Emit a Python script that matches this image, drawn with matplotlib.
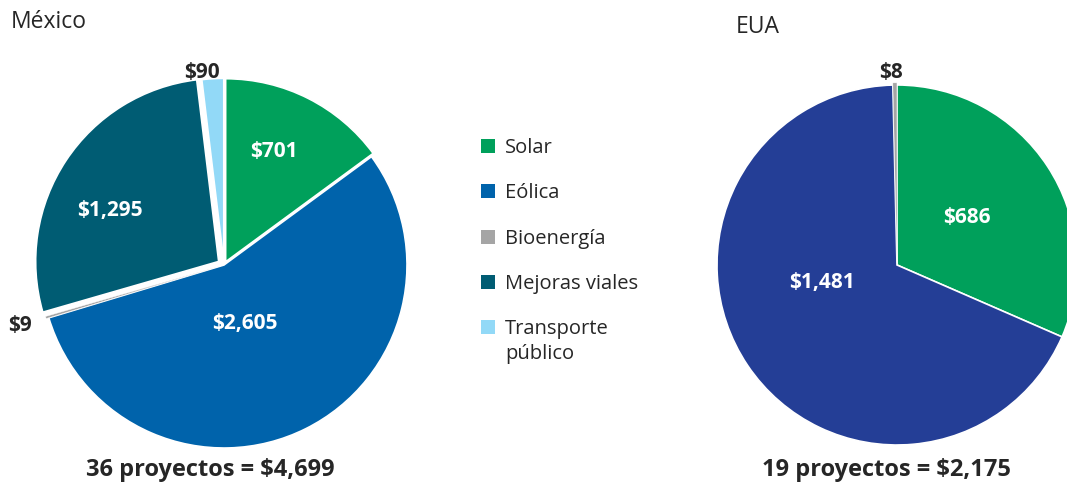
import numpy as np
import matplotlib
matplotlib.use("Agg")
import matplotlib.pyplot as plt
from matplotlib.patches import Rectangle

plt.rcParams["font.family"] = ["Open Sans", "DejaVu Sans"]

# --- data ---
categories = ["Solar", "Eólica", "Bioenergía", "Mejoras viales", "Transporte\npúblico"]
mx_values = [701, 2605, 9, 1295, 90]
mx_labels = ["$701", "$2,605", "$9", "$1,295", "$90"]
mx_colors = ["#00A05B", "#0063AB", "#A5A5A5", "#005C73", "#92D9F7"]

us_values = [686, 1481, 8]
us_labels = ["$686", "$1,481", "$8"]
us_colors = ["#00A05B", "#243E96", "#A5A5A5"]

mx_total = "36 proyectos = $4,699"
us_total = "19 proyectos = $2,175"

W, H = 1067, 486
fig = plt.figure(figsize=(W / 100, H / 100), dpi=100)

LIM = 1.06


def pie_axes(cx, cy, r):
    """Axes in pixel coords (origin top-left) for a pie of radius r centred at cx, cy."""
    half = r * LIM
    return fig.add_axes([(cx - half) / W, (H - cy - half) / H, 2 * half / W, 2 * half / H])


def draw_pie(ax, values, colors, labels, label_r, label_dang, label_colors, explode):
    wedges, _ = ax.pie(values, colors=colors, startangle=90, counterclock=False,
                       explode=explode,
                       wedgeprops=dict(edgecolor="white", linewidth=1.2))
    ax.set_xlim(-LIM, LIM)
    ax.set_ylim(-LIM, LIM)
    ax.set_aspect("equal")
    for w, lab, r, da, c in zip(wedges, labels, label_r, label_dang, label_colors):
        # thin slivers would vanish under the white outline
        if abs(w.theta2 - w.theta1) < 2:
            w.set_linewidth(0.3)
        ang = np.deg2rad((w.theta1 + w.theta2) / 2 + da)
        ax.text(r * np.cos(ang), r * np.sin(ang), lab, ha="center", va="center",
                fontsize=15, fontweight="bold", color=c)
    return wedges


# México
ax1 = pie_axes(224, 265, 183)
draw_pie(ax1, mx_values, mx_colors, mx_labels,
         label_r=[0.68, 0.34, 1.16, 0.69, 1.06],
         label_dang=[3, -7, 0, 8, 3],
         label_colors=["white", "white", "#262626", "white", "#262626"],
         explode=[0.02, 0.0, 0.015, 0.035, 0.02])

# EUA
ax2 = pie_axes(897, 265, 180)
draw_pie(ax2, us_values, us_colors, us_labels,
         label_r=[0.47, 0.43, 1.07, ],
         label_dang=[1, -21, 1],
         label_colors=["white", "white", "#262626"],
         explode=[0.0, 0.0, 0.012])

# titles
fig.text(11 / W, 1 - 22 / H, "México", fontsize=16.5, color="#262626", va="center", ha="left")
fig.text(736 / W, 1 - 27 / H, "EUA", fontsize=16.5, color="#262626", va="center", ha="left")

# totals
fig.text(210 / W, 1 - 470 / H, mx_total, fontsize=17, fontweight="bold",
         color="#262626", ha="center", va="center")
fig.text(886 / W, 1 - 470 / H, us_total, fontsize=17, fontweight="bold",
         color="#262626", ha="center", va="center")

# legend (drawn by hand so the two-line entry lines up like the original)
leg_y = [146, 191, 237, 282, 327]
for cat, col, y in zip(categories, mx_colors, leg_y):
    fig.patches.append(Rectangle(((481) / W, 1 - (y + 7) / H), 14 / W, 14 / H,
                                 transform=fig.transFigure, facecolor=col,
                                 edgecolor="none"))
    fig.text(505 / W, 1 - (y - 8) / H, cat, fontsize=14.5, color="#262626",
             ha="left", va="top", linespacing=1.3)

fig.savefig("out.png", dpi=100, facecolor="white")
